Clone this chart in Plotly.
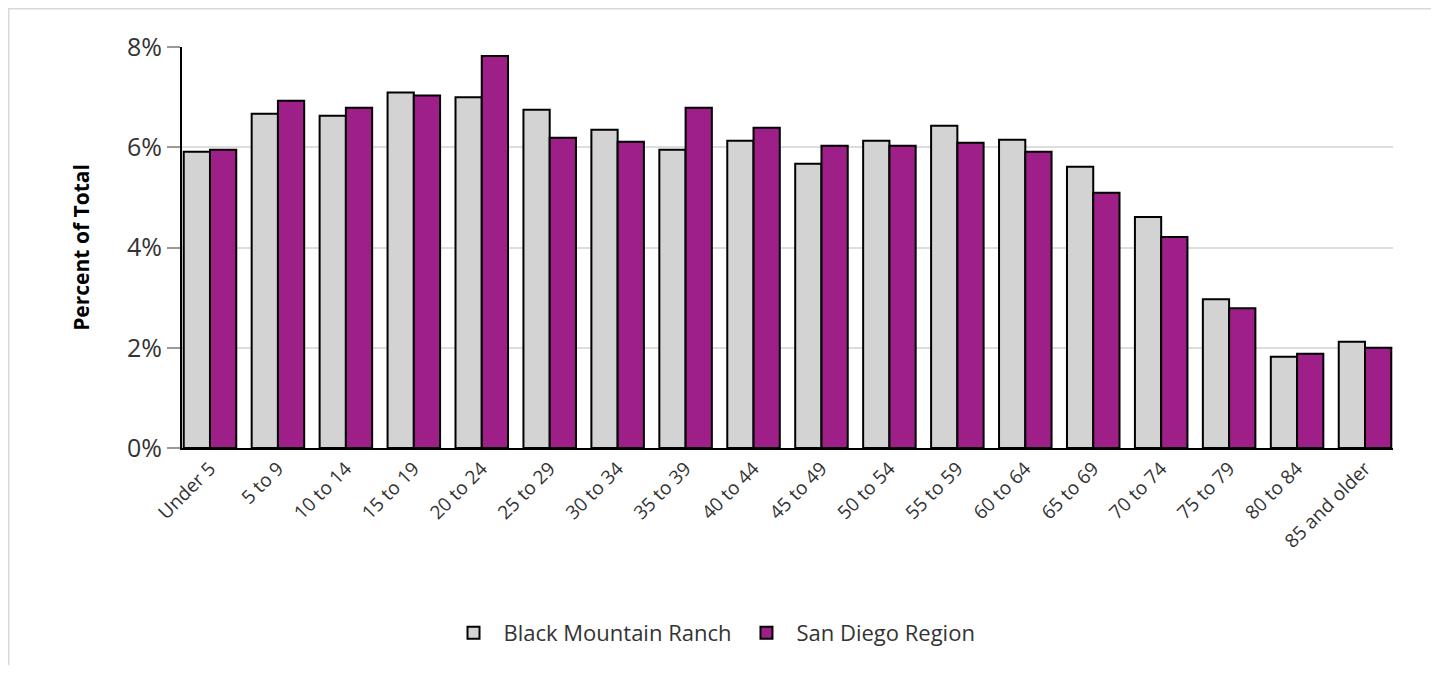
import plotly.graph_objects as go

categories = ["Under 5", "5 to 9", "10 to 14", "15 to 19", "20 to 24", "25 to 29",
              "30 to 34", "35 to 39", "40 to 44", "45 to 49", "50 to 54", "55 to 59",
              "60 to 64", "65 to 69", "70 to 74", "75 to 79", "80 to 84", "85 and older"]
black_mountain_ranch = [5.91, 6.67, 6.63, 7.09, 7.00, 6.75, 6.35, 5.95, 6.13, 5.67,
                        6.13, 6.43, 6.15, 5.61, 4.61, 2.97, 1.82, 2.12]
san_diego_region = [5.95, 6.93, 6.79, 7.03, 7.82, 6.19, 6.11, 6.79, 6.39, 6.03,
                    6.03, 6.09, 5.91, 5.09, 4.21, 2.79, 1.88, 2.00]
y_ticks = [0, 2, 4, 6, 8]
y_tick_labels = ["0%", "2%", "4%", "6%", "8%"]

FONT = "Open Sans, Lato, sans-serif"
OFF = 8  # page body margin
W, H = 1439 - 2 * OFF, 673 - 2 * OFF
ML, MT = 182 - OFF, 47 - OFF
PR, PB = 1393 - OFF, 448 - OFF
MR, MB = W - PR, H - PB
pw, ph = PR - ML, PB - MT


def px_x(p):
    return (p - OFF - ML) / pw


def px_y(p):
    return (PB - (p - OFF)) / ph


fig = go.Figure()
fig.add_trace(go.Bar(name="Black Mountain Ranch", x=categories, y=black_mountain_ranch,
                     marker=dict(color="#d3d3d3", line=dict(color="#000000", width=2))))
fig.add_trace(go.Bar(name="San Diego Region", x=categories, y=san_diego_region,
                     marker=dict(color="#9e1f88", line=dict(color="#000000", width=2))))

# outer light frame
fig.add_shape(type="rect", xref="paper", yref="paper",
              x0=px_x(8.75), x1=px_x(1434), y0=px_y(700), y1=px_y(8.75),
              line=dict(color="#d9d9d9", width=1.5), fillcolor="rgba(0,0,0,0)", layer="below")

fig.update_layout(
    width=W, height=H,
    margin=dict(l=ML, r=MR, t=MT, b=MB, autoexpand=False),
    paper_bgcolor="white", plot_bgcolor="white",
    barmode="group", bargap=0.227, bargroupgap=0.0,
    font=dict(family=FONT, color="#333333"),
    showlegend=True,
    legend=dict(orientation="h", x=px_x(712), xanchor="center", y=px_y(633), yanchor="middle",
                font=dict(size=22, color="#333333"), itemwidth=50, traceorder="normal"),
    xaxis=dict(
        range=[-0.412, 17.412],
        tickangle=-45, tickfont=dict(size=19, color="#333333"),
        showline=True, linecolor="#000000", linewidth=2,
        showgrid=False, ticks="", automargin=False,
    ),
    yaxis=dict(
        range=[0, 8], tickvals=y_ticks, ticktext=y_tick_labels,
        tickfont=dict(size=25, color="#333333"),
        showline=True, linecolor="#000000", linewidth=2,
        showgrid=True, gridcolor="#dddddd", gridwidth=2,
        ticks="outside", ticklen=13, tickcolor="#999999", tickwidth=1.5,
        zeroline=False, automargin=False,
        title=dict(text="<b>Percent of Total</b>", font=dict(size=21, color="#000000"), standoff=32),
    ),
)

fig.write_html("out.html")
